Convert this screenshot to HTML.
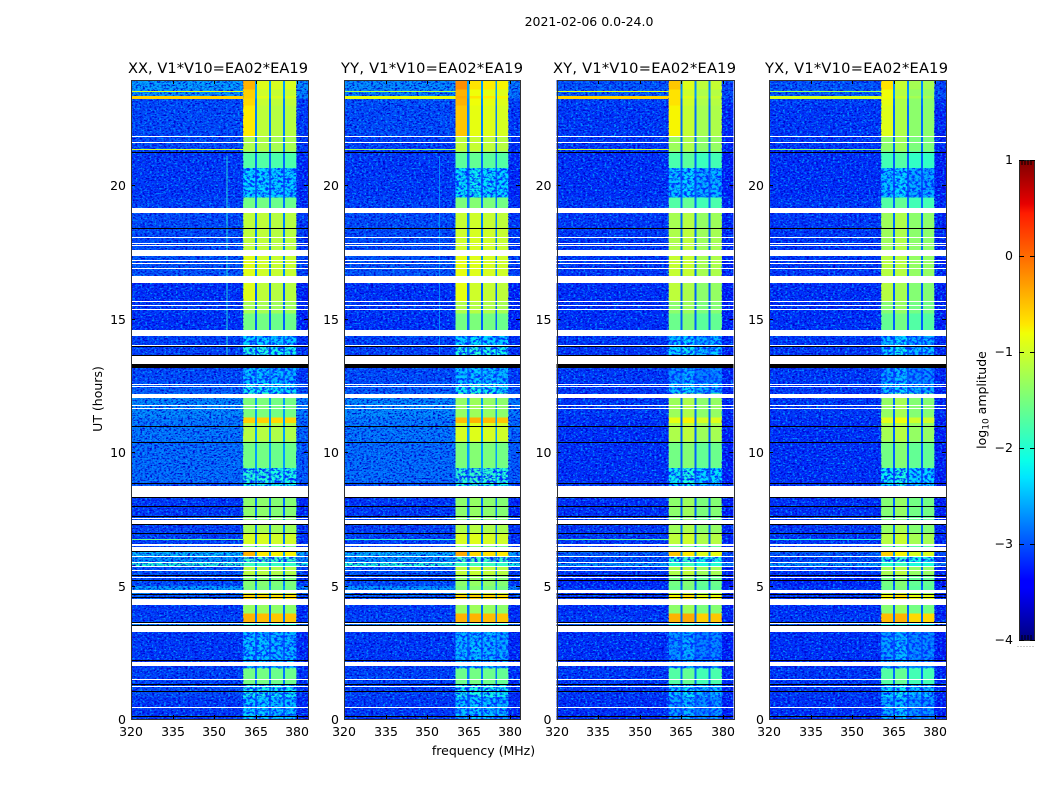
<!DOCTYPE html>
<html lang="en">
<head>
<meta charset="utf-8">
<title>2021-02-06 amplitude waterfall</title>
<style>
html,body{margin:0;padding:0;background:#fff;width:1050px;height:800px;overflow:hidden}
svg{display:block}
text{font-family:"DejaVu Sans","Liberation Sans",sans-serif;fill:#000}
.tick{font-size:12.5px}
.ttl{font-size:14.6px}
.lab{font-size:12.5px}
</style>
</head>
<body>
<svg id="chart" xmlns="http://www.w3.org/2000/svg" width="1050" height="800" viewBox="0 0 1050 800">
  <defs>
    <linearGradient id="jet-gradient" x1="0" y1="1" x2="0" y2="0">
      <stop offset="0" stop-color="#00007f"/>
      <stop offset="0.11" stop-color="#0000ff"/>
      <stop offset="0.125" stop-color="#0000ff"/>
      <stop offset="0.34" stop-color="#00e6ff"/>
      <stop offset="0.375" stop-color="#0affe8"/>
      <stop offset="0.64" stop-color="#f1ff06"/>
      <stop offset="0.66" stop-color="#ffe600"/>
      <stop offset="0.89" stop-color="#ff1c00"/>
      <stop offset="0.91" stop-color="#e60000"/>
      <stop offset="1" stop-color="#7f0000"/>
    </linearGradient>
    <filter id="speck-light" x="0" y="0" width="1" height="1" color-interpolation-filters="sRGB">
      <feTurbulence type="fractalNoise" baseFrequency="0.42 0.6" numOctaves="2" seed="4"/>
      <feColorMatrix type="matrix" values="0 0 0 0 0  0 0 0 0 0.62  0 0 0 0 1  3.6 0 0 0 -1.85"/>
    </filter>
    <filter id="speck-dark" x="0" y="0" width="1" height="1" color-interpolation-filters="sRGB">
      <feTurbulence type="fractalNoise" baseFrequency="0.42 0.6" numOctaves="2" seed="11"/>
      <feColorMatrix type="matrix" values="0 0 0 0 0  0 0 0 0 0  0 0 0 0 0.8  3.6 0 0 0 -1.6"/>
    </filter>
    <filter id="mottle-filter" x="0" y="0" width="1" height="1" color-interpolation-filters="sRGB">
      <feTurbulence type="fractalNoise" baseFrequency="0.32 0.42" numOctaves="3" seed="7"/>
      <feColorMatrix type="matrix" values="0 0 0 0 0  0 0 0 0 0.18  0 0 0 0 1  4.4 0 0 0 -1.9"/>
    </filter>
  </defs>

  <text x="589" y="26" text-anchor="middle" font-size="12.5">2021-02-06 0.0-24.0</text>

  <text class="ttl" x="218" y="73" text-anchor="middle" textLength="180">XX, V1*V10=EA02*EA19</text>
  <text class="ttl" x="432" y="73" text-anchor="middle" textLength="182">YY, V1*V10=EA02*EA19</text>
  <text class="ttl" x="644.5" y="73" text-anchor="middle" textLength="183">XY, V1*V10=EA02*EA19</text>
  <text class="ttl" x="856.5" y="73" text-anchor="middle" textLength="183">YX, V1*V10=EA02*EA19</text>

  <text class="lab" transform="translate(102,399) rotate(-90)" text-anchor="middle">UT (hours)</text>
  <text class="lab" x="483.5" y="755" text-anchor="middle">frequency (MHz)</text>

  <g id="panels"></g>

  <g>
    <rect x="1019.5" y="160.5" width="15" height="480" fill="url(#jet-gradient)" stroke="#2a2a2a" stroke-width="1"/>
    <g id="colorbar-ticks"></g>
    <path d="M1022 160v5M1025 160v5M1028 160v5M1031 160v5M1022 635v5M1025 635v5M1028 635v5M1031 635v5" stroke="#000" stroke-width="1" fill="none"/>
    <path d="M1017.5 646.5h1M1020.5 646.5h1M1023.5 646.5h1M1026.5 646.5h1M1029.5 646.5h1M1032.5 646.5h1" stroke="#999" stroke-width="1" fill="none"/>
    <text class="lab" transform="translate(986,400) rotate(-90)" text-anchor="middle">log<tspan font-size="9" dy="2.5">10</tspan><tspan dy="-2.5"> amplitude</tspan></text>
  </g>
</svg>
<script>
// Data. Hours are UT; levels are log10 amplitude.
var panelNames = ['xx', 'yy', 'xy', 'yx'];
var freqTicks = [320, 335, 350, 365, 380];
var hourTicks = [0, 5, 10, 15, 20];
var colorTicks = [-4, -3, -2, -1, 0, 1];
var freqEdges = [320, 360.5, 364.8, 365.6, 369.9, 370.6, 375, 375.7, 379.8, 384];
var channelKinds = ['bg', 'band1', 'gap', 'band', 'gap', 'band', 'gap', 'band', 'edge'];
var hourEdges = [0,.82,1.31,1.91,3.47,3.64,3.95,4.5,4.7,4.98,5.4,5.7,5.87,6.07,6.26,6.56,6.95,7.3,7.62,8.32,8.86,9.4,10.4,11.1,11.3,12.2,12.6,13.3,13.95,14.58,15.2,15.67,16.36,17.35,18.4,19.15,19.55,20.65,21.27,21.85,23,23.25,23.35,23.6,23.95];

var bgXX = [-3.1,-3.0,-3.05,-3.1,-2.7,-3.05,-3.1,-2.9,-2.55,-3.0,-2.95,-2.05,-2.6,-2.4,-3.0,-3.05,-3.05,-3.0,-3.1,-2.95,-2.8,-2.8,-2.75,-2.75,-2.65,-2.9,-3.0,-3.05,-3.05,-3.15,-3.1,-3.15,-2.95,-3.0,-3.0,-3.05,-3.1,-3.1,-3.0,-3.0,-3.0,-2.6,-2.6,-2.55];
var bgYY = [-3.1,-3.05,-3.05,-3.1,-2.7,-3.05,-3.1,-2.9,-2.6,-3.0,-2.95,-2.05,-2.6,-2.45,-3.0,-3.05,-3.05,-3.0,-3.1,-2.95,-2.8,-2.8,-2.75,-2.75,-2.65,-2.9,-3.0,-3.05,-3.05,-3.15,-3.1,-3.15,-2.95,-3.0,-3.0,-3.05,-3.1,-3.1,-3.05,-3.0,-2.95,-2.7,-2.7,-2.65];
var bgXY = [-3.15,-3.1,-3.1,-3.15,-2.9,-3.1,-3.15,-3.1,-3.1,-3.2,-3.1,-2.6,-3.0,-2.9,-3.1,-3.1,-3.1,-3.1,-3.15,-3.1,-3.15,-3.15,-3.15,-3.15,-3.1,-3.1,-3.1,-3.1,-3.1,-3.15,-3.15,-3.15,-3.1,-3.1,-3.1,-3.1,-3.15,-3.15,-3.1,-3.1,-3.05,-2.9,-2.9,-2.95];
var bgYX = [-3.15,-3.1,-3.1,-3.15,-2.9,-3.1,-3.15,-3.1,-3.1,-3.2,-3.1,-2.6,-3.0,-2.9,-3.1,-3.1,-3.1,-3.1,-3.15,-3.1,-3.15,-3.15,-3.15,-3.15,-3.1,-3.1,-3.1,-3.1,-3.1,-3.15,-3.15,-3.15,-3.1,-3.1,-3.1,-3.1,-3.15,-3.15,-3.1,-3.1,-3.05,-2.9,-2.9,-2.95];

var bandXX = [-2.35,-2.15,-1.55,-2.4,-2.0,-.45,-1.35,-.6,-1.5,-1.45,-1.15,-1.9,-1.9,-.7,-1.5,-.95,-1.25,-1.4,-1.4,-2.1,-2.05,-1.55,-1.15,-.55,-1.5,-2.2,-2.4,-2.1,-2.3,-1.55,-1.25,-1.1,-1.0,-1.1,-1.1,-1.55,-2.3,-1.75,-1.2,-1.1,-1.05,-.9,-1.0,-.9];
var bandYY = [-2.4,-2.15,-1.6,-2.45,-2.0,-.45,-1.35,-.6,-1.5,-1.4,-1.1,-1.9,-1.9,-.65,-1.5,-.95,-1.2,-1.4,-1.4,-2.1,-2.0,-1.5,-.95,-.45,-1.35,-2.2,-2.4,-2.1,-2.3,-1.55,-1.2,-1.05,-.95,-1.0,-1.05,-1.5,-2.25,-1.7,-1.1,-.9,-.85,-.7,-.85,-.7];
var bandXY = [-2.55,-2.35,-1.75,-2.6,-2.2,-.45,-1.4,-.75,-1.6,-1.55,-1.2,-2.0,-2.05,-.8,-1.65,-1.1,-1.3,-1.5,-1.4,-2.25,-2.2,-1.55,-1.2,-.85,-1.3,-2.4,-2.6,-2.3,-2.4,-1.6,-1.4,-1.3,-1.15,-1.2,-1.25,-1.75,-2.4,-1.8,-1.3,-1.15,-1.1,-1.0,-1.1,-1.0];
var bandYX = [-2.5,-2.3,-1.75,-2.55,-2.15,-.5,-1.45,-.75,-1.6,-1.55,-1.25,-2.0,-2.05,-.85,-1.65,-1.15,-1.35,-1.55,-1.45,-2.25,-2.2,-1.55,-1.25,-.9,-1.35,-2.4,-2.55,-2.3,-2.4,-1.65,-1.45,-1.35,-1.25,-1.3,-1.3,-1.75,-2.4,-1.85,-1.4,-1.3,-1.3,-1.15,-1.25,-1.15];

var band1Boost = [0,0,0,0,0,.05,0,0,0,0,0,0,0,.3,0,0,0,0,0,0,0,0,0,0,0,0,0,0,0,0,0,.2,.1,0,0,0,0,0,0,.4,.45,.35,.45,.5];
var bandTrimXX = [0, 0, -0.05, -0.05];
var bandTrimYY = [0, 0.05, 0, -0.05];
var bandTrimXY = [0, 0.1, -0.1, -0.05];
var bandTrimYX = [0, 0.1, -0.1, -0.1];
var mottleFlags = [1,1,0,1,0,0,0,0,0,0,0,0,1,0,0,0,0,0,0,1,1,0,0,0,0,1,1,1,1,0,0,0,0,0,0,0,1,0,0,0,0,0,0,0];

var whiteGapStarts = [.41,1.20,1.46,1.99,3.26,3.56,4.27,4.74,4.80,5.28,5.55,5.70,5.87,6.07,6.30,6.47,7.31,7.48,8.32,11.62,11.73,12.03,12.46,12.52,13.32,13.98,14.36,15.33,15.48,15.63,16.36,16.87,17.05,17.17,17.35,17.73,17.80,18.03,18.97,21.59,21.81];
var whiteGapEnds   = [.45,1.24,1.50,2.14,3.47,3.60,4.50,4.78,4.84,5.32,5.58,5.73,5.90,6.11,6.43,6.56,7.46,7.55,8.73,11.66,11.77,12.20,12.50,12.56,13.59,14.02,14.58,15.37,15.52,15.67,16.59,16.90,17.09,17.20,17.58,17.77,17.84,18.07,19.15,21.63,21.85];
var blackLineStarts = [.07,1.02,1.30,2.17,3.51,3.61,4.54,4.67,5.17,5.35,6.26,6.95,7.27,7.59,7.93,8.29,8.83,10.35,10.97,13.16,13.63,13.95,18.39,21.24];
var blackLineEnds   = [.11,1.06,1.33,2.20,3.54,3.64,4.57,4.70,5.20,5.38,6.29,6.98,7.30,7.62,7.99,8.32,8.86,10.38,11.00,13.29,13.66,13.98,18.42,21.27];

var brightRowHours = [6.75, 21.36, 23.35, 23.54];
var brightRowLevels = [-1.6, -1.0, -0.55, -0.95];
var brightRowThickness = [1, 1, 3, 1];
var brightTrim = [0, -0.3, 0, -0.4];
var rfiFrequency = 354.5;
var rfiStartHour = 13.6;
var rfiEndHour = 21.1;
var rfiLevels = [-2.0, -2.6, -3.0, -3.0];

var panelBg = [bgXX, bgYY, bgXY, bgYX];
var panelBand = [bandXX, bandYY, bandXY, bandYX];
var panelTrim = [bandTrimXX, bandTrimYY, bandTrimXY, bandTrimYX];

var SVGNS = 'http://www.w3.org/2000/svg';
var panelLeft = [131, 344, 556.5, 769];
var panelWidths = [177, 176, 177, 177];
var panelTop = 80, panelBottom = 719;

function lerpStops(t, xs, ys) {
  for (var i = 1; i < xs.length; i++) {
    if (t <= xs[i]) return ys[i-1] + (ys[i]-ys[i-1]) * (t-xs[i-1]) / (xs[i]-xs[i-1]);
  }
  return ys[ys.length-1];
}
function jet(level) {
  var t = Math.max(0, Math.min(1, (level + 4) / 5));
  var r = lerpStops(t, [0,.35,.66,.89,1], [0,0,1,1,.5]);
  var g = lerpStops(t, [0,.125,.375,.64,.91,1], [0,0,1,1,0,0]);
  var b = lerpStops(t, [0,.11,.34,.65,1], [.5,1,1,0,0]);
  return 'rgb(' + Math.round(r*255) + ',' + Math.round(g*255) + ',' + Math.round(b*255) + ')';
}
function freqX(p, f) { return panelLeft[p] + (f - 320) * (panelWidths[p] / 64); }
function hourY(h) { return panelBottom - h * 26.68; }
function svgEl(tag, parent) {
  var el = document.createElementNS(SVGNS, tag);
  parent.appendChild(el);
  return el;
}
function place(el, x, y, w, h, fill) {
  el.setAttribute('x', x);
  el.setAttribute('y', y);
  el.setAttribute('width', w);
  el.setAttribute('height', h);
  el.setAttribute('fill', fill);
  el.setAttribute('shape-rendering', 'crispEdges');
}
function tickLine(parent, x1, y1, x2, y2) {
  var l = svgEl('line', parent);
  
  
  l.setAttribute('x1', x1);
  l.setAttribute('y1', y1);
  l.setAttribute('x2', x2);
  l.setAttribute('y2', y2);
  l.setAttribute('stroke', '#000');
  l.setAttribute('stroke-width', '1');
  l.setAttribute('shape-rendering', 'crispEdges');
}
function tickText(parent, x, y, anchor, str) {
  var t = svgEl('text', parent);
  
  
  t.setAttribute('class', 'tick');
  t.setAttribute('x', x);
  t.setAttribute('y', y);
  t.setAttribute('text-anchor', anchor);
  t.textContent = str;
}

var panelsRoot = document.getElementById('panels');
panelNames.forEach(function (name, p) {
  var g = svgEl('g', panelsRoot);
  
  
  var panelWidth = panelWidths[p];
  var x0 = panelLeft[p], x1 = x0 + panelWidth;

  for (var b = 0; b < hourEdges.length - 1; b++) {
    var top = hourY(hourEdges[b+1]), bot = hourY(hourEdges[b]);
    var bg = panelBg[p][b], band = panelBand[p][b], bandNo = 0;
    for (var c = 0; c < channelKinds.length; c++) {
      var kind = channelKinds[c], level;
      if (kind === 'bg') level = bg;
      else if (kind === 'edge') level = bg - 0.1;
      else if (kind === 'gap') level = Math.min(bg + 0.25, -2.6);
      else {
        level = band + panelTrim[p][bandNo] + (kind === 'band1' ? band1Boost[b] : 0);
        bandNo++;
      }
      var cell = svgEl('rect', g);
      
      
      place(cell, freqX(p, freqEdges[c]), top, freqX(p, freqEdges[c+1]) - freqX(p, freqEdges[c]), bot - top, jet(level));
    }
  }

  // speckle texture over the background channels
  var bandStart = freqX(p, freqEdges[1]), bandEnd = freqX(p, freqEdges[8]);
  [[x0, bandStart - x0], [bandEnd, x1 - bandEnd]].forEach(function (seg) {
    ['speck-dark', 'speck-light'].forEach(function (fid) {
      var s = svgEl('rect', g);
      
      
      place(s, seg[0], panelTop, seg[1], panelBottom - panelTop, '#000');
      s.setAttribute('filter', 'url(#' + fid + ')');
    });
  });

  // mottled texture in the quiet time blocks of the band
  mottleFlags.forEach(function (flag, b) {
    if (!flag) return;
    var m = svgEl('rect', g);
    
    
    var t = hourY(hourEdges[b+1]);
    place(m, bandStart, t, bandEnd - bandStart, hourY(hourEdges[b]) - t, '#000');
    m.setAttribute('filter', 'url(#mottle-filter)');
  });

  // narrow interference column
  var rfi = svgEl('rect', g);
  
  
  place(rfi, freqX(p, rfiFrequency), hourY(rfiEndHour), 1, hourY(rfiStartHour) - hourY(rfiEndHour), jet(rfiLevels[p]));
  rfi.setAttribute('opacity', p < 2 ? '0.8' : '0');

  // bright row features
  brightRowHours.forEach(function (h, i) {
    var r = svgEl('rect', g);
    
    
    place(r, x0, hourY(h), bandStart - x0, brightRowThickness[i], jet(brightRowLevels[i] + brightTrim[p]));
  });

  whiteGapStarts.forEach(function (h, i) {
    var w = svgEl('rect', g);
    
    
    var t = Math.round(hourY(whiteGapEnds[i]));
    place(w, x0, t, panelWidth, Math.max(1, Math.round(hourY(h)) - t), '#fff');
  });
  blackLineStarts.forEach(function (h, i) {
    var k = svgEl('rect', g);
    
    
    var t = Math.round(hourY(blackLineEnds[i]));
    place(k, x0, t, panelWidth, Math.max(1, Math.round(hourY(h)) - t), '#000');
  });

  freqTicks.forEach(function (f) {
    var x = Math.round(panelLeft[p] + (f - 320) * 2.767) + 0.5;
    tickLine(g, x, panelBottom, x, panelBottom - 4);
    tickLine(g, x, panelTop, x, panelTop + 4);
    tickText(g, x - 0.5, 736, 'middle', String(f));
  });
  hourTicks.forEach(function (h) {
    var y = Math.round(hourY(h)) + 0.5;
    tickLine(g, x0, y, x0 + 4, y);
    tickLine(g, x1, y, x1 - 4, y);
    tickText(g, x0 - 5, y + 4.5, 'end', String(h));
  });

  var frame = svgEl('rect', g);
  
  
  frame.setAttribute('x', Math.round(x0) + 0.5);
  frame.setAttribute('y', panelTop + 0.5);
  frame.setAttribute('width', panelWidth);
  frame.setAttribute('height', panelBottom - panelTop);
  frame.setAttribute('fill', 'none');
  frame.setAttribute('stroke', '#333');
  frame.setAttribute('stroke-width', '1');
  frame.setAttribute('shape-rendering', 'crispEdges');
});

var cbTicks = document.getElementById('colorbar-ticks');
colorTicks.forEach(function (v) {
  var y = Math.round(640 - (v + 4) * 96) + 0.5;
  tickLine(cbTicks, 1019, y, 1024, y);
  tickLine(cbTicks, 1030, y, 1035, y);
  var label = v < 0 ? '\u2212' + Math.abs(v) : String(v);
  tickText(cbTicks, 1013, y + 3.5, 'end', label);
});
</script>
</body>
</html>
